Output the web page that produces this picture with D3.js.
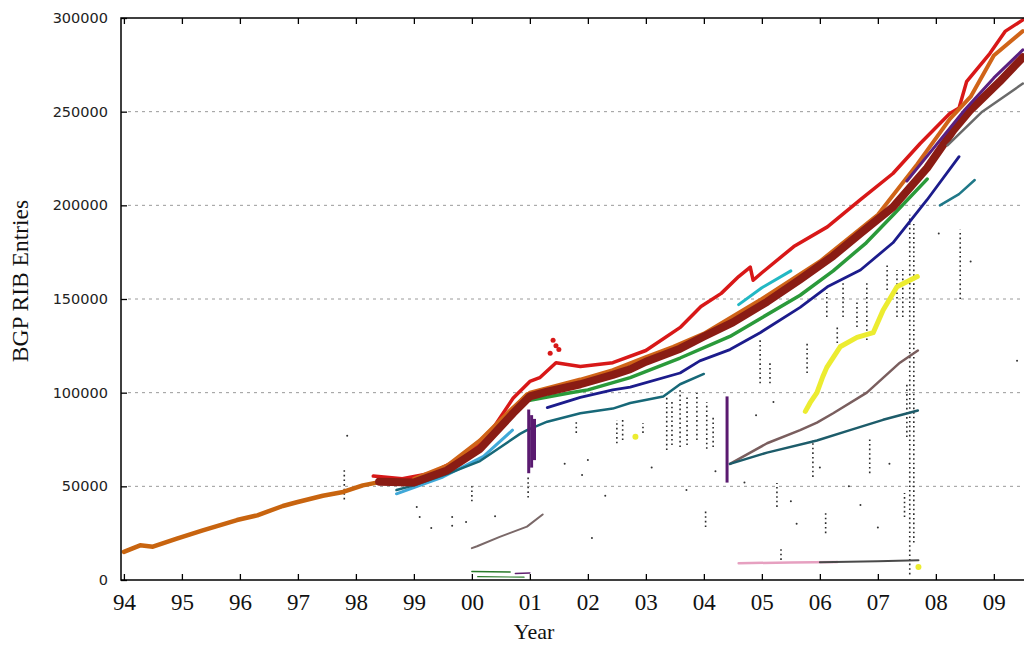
<!DOCTYPE html>
<html>
<head>
<meta charset="utf-8">
<script src="https://cdn.jsdelivr.net/npm/d3@7"></script>
<style>
  body { margin: 0; background: #fff; }
  svg { display: block; }
</style>
</head>
<body>
<div id="chart"></div>
<script>
// ticks
const yearTicks = [1994, 1995, 1996, 1997, 1998, 1999, 2000, 2001, 2002, 2003, 2004, 2005, 2006, 2007, 2008, 2009];
const valueTicks = [0, 50000, 100000, 150000, 200000, 250000, 300000];

// series, [year, RIB entries]
const orangeEarly = [[1994.0,15000],[1994.28,18500],[1994.5,17800],[1994.9,22000],[1995.36,26500],[1995.95,32000],[1996.3,34500],[1996.74,39500],[1996.98,41500],[1997.43,45000],[1997.78,47000],[1998.12,50500],[1998.36,52000],[1998.8,52500],[1999.0,53500],[1999.57,60000],[2000.14,74000],[2000.71,91500],[2000.95,99000],[2001.3,101000]];
const orangeBand = [[1999.0,54000],[1999.57,61000],[2000.14,74500],[2000.71,92000],[2001.0,100000],[2001.87,107000],[2002.43,112000],[2003.0,119000],[2003.47,124500],[2004.0,131500],[2005.0,150000],[2006.0,170000],[2007.0,195000],[2007.68,222000],[2008.24,246000],[2008.6,258000],[2009.0,280000],[2009.5,293000]];
const redTop = [[1998.3,55500],[1998.8,54000],[1999.3,57000],[1999.8,65000],[2000.3,78000],[2000.71,97000],[2001.0,106000],[2001.17,108000],[2001.45,116000],[2001.87,114000],[2002.43,116000],[2003.0,122500],[2003.6,135000],[2003.95,146000],[2004.3,153000],[2004.6,162000],[2004.8,167000],[2004.85,160000],[2005.0,164000],[2005.55,178000],[2006.13,188500],[2006.7,203000],[2007.26,217000],[2007.73,233000],[2008.24,249000],[2008.4,252000],[2008.53,266000],[2008.93,281000],[2009.2,293000],[2009.5,299000]];
const redSpike = [[2001.4,128000],[2001.45,125000],[2001.5,123000],[2001.35,121000]];
const mainBand = [[1998.4,52500],[1999.0,52000],[1999.57,58500],[2000.14,70000],[2000.71,89000],[2001.0,98000],[2001.3,100500],[2001.87,104500],[2002.43,109500],[2002.73,112500],[2003.0,116500],[2003.59,123500],[2004.0,130000],[2004.5,137500],[2005.09,148500],[2005.66,160500],[2006.23,173000],[2006.7,185000],[2007.26,199000],[2007.85,220000],[2008.3,240000],[2008.6,251000],[2009.1,266000],[2009.5,279000]];
const greenBand = [[2001.0,96000],[2001.7,100000],[2002.0,101500],[2002.73,108000],[2003.59,118500],[2004.45,130000],[2005.0,140000],[2005.66,152000],[2006.23,165000],[2006.8,180000],[2007.3,196000],[2007.85,214000]];
const purpleTop = [[2007.5,213000],[2008.0,232000],[2008.5,251000],[2009.0,268000],[2009.5,283000]];
const grayLate = [[2008.2,232000],[2008.8,250000],[2009.5,265000]];
const navy = [[2001.3,92000],[2001.87,97500],[2002.43,101500],[2002.73,103000],[2003.59,110500],[2003.93,117000],[2004.45,123000],[2004.97,132000],[2005.66,145500],[2006.13,156500],[2006.7,165500],[2007.26,180000],[2007.85,203000],[2008.4,226000]];
const skyBlue = [[1998.7,46000],[1999.5,55000],[2000.2,66000],[2000.7,80000]];
const tealLow = [[1998.7,48000],[1999.0,50500],[1999.57,56500],[2000.14,63500],[2000.83,78000],[2000.95,80000],[2001.3,84500],[2001.87,89000],[2002.43,91500],[2002.73,94500],[2003.3,98000],[2003.59,104500],[2004.0,110000]];
const cyan = [[2004.6,147000],[2005.0,156000],[2005.5,165000]];
const taupe = [[2004.45,62000],[2005.09,73000],[2005.66,80000],[2005.95,84000],[2006.23,89000],[2006.81,100000],[2007.38,116000],[2007.69,122500]];
const tealLow2 = [[2004.45,62000],[2005.09,68000],[2005.95,74500],[2006.52,80000],[2007.09,85500],[2007.69,90500]];
const yellow = [[2005.75,90000],[2005.83,94500],[2005.95,100000],[2006.05,108500],[2006.12,113500],[2006.35,124500],[2006.64,129500],[2006.92,132000],[2007.09,144000],[2007.33,156500],[2007.68,162000]];
const pinkBottom = [[2004.6,9000],[2005.5,9300],[2006.3,9600]];
const darkBottom = [[2006.0,9500],[2007.0,10000],[2007.7,10500]];
const grayBrown = [[2000.0,17000],[2000.09,18000],[2000.48,23000],[2000.95,28500],[2001.22,35000]];
const greenBottom = [[2000.0,4500],[2000.66,4300]];
const greenBottom2 = [[2000.1,1800],[2000.9,1500]];
const purpleBottom = [[2000.75,3500],[2001.0,3800]];
const tealLate = [[2008.07,200000],[2008.4,206000],[2008.67,213500]];

// vertical spikes, [year, low, high]
const purpleSpikes = [[2000.98,57000,91000],[2001.03,60000,88000],[2001.08,64000,86000],[2004.4,52000,98000]];
const spikes = [[1997.8,43000,60000],[2000.0,42000,50000],[2000.97,44000,55000],[2001.8,78500,85400],[2002.5,73000,85400],[2002.6,74700,87000],[2002.95,78500,83800],[2003.36,69400,99800],[2003.45,72000,96000],[2003.59,71000,101400],[2003.71,72000,98000],[2003.88,74700,99800],[2004.05,70000,95000],[2004.16,71000,87000],[2004.03,28300,37400],[2004.97,105000,128000],[2005.14,105000,117000],[2005.26,39000,51800],[2005.33,10700,17600],[2005.78,110500,126500],[2005.88,55000,74700],[2006.1,25000,35800],[2006.12,140400,153200],[2006.3,126500,135000],[2006.4,140400,158500],[2006.64,135000,149500],[2006.81,128100,158500],[2006.86,57000,76300],[2007.16,154800,169200],[2007.33,140400,165500],[2007.43,140400,165500],[2007.5,76300,105200],[2007.46,33600,46400],[2007.55,3000,195000],[2007.62,20000,190000],[2008.42,150000,187000]];
const strayDots = [[1997.85,77000],[1999.05,39000],[1999.1,33600],[1999.66,33600],[1999.66,29000],[1999.9,31000],[1999.3,27700],[2002.07,22400],[2001.6,62000],[2001.9,56000],[2002.3,45000],[2002.8,76000],[2003.1,60000],[2004.2,58000],[2004.7,52000],[2004.9,88000],[2005.2,95000],[2005.5,42000],[2005.6,30000],[2006.0,60000],[2006.5,50000],[2006.7,40000],[2007.0,28000],[2007.2,62000],[2008.05,185000],[2008.6,170000],[2009.4,117000],[2003.7,48000],[2002.0,64000],[2000.4,34000]];
const strayYellow = [[2002.82,76500],[2007.7,7000]];

const width = 1024, height = 646;
const margin = {top: 18, right: 0, bottom: 66, left: 121};

const x = d3.scaleLinear().domain([1993.95, 2009.52]).range([margin.left, width - margin.right]);
const y = d3.scaleLinear().domain([0, 300000]).range([height - margin.bottom, margin.top]);

const svg = d3.select("#chart").append("svg")
  .attr("width", width)
  .attr("height", height);

svg.append("defs").append("clipPath").attr("id", "plot")
  .append("rect")
  .attr("x", margin.left).attr("y", margin.top)
  .attr("width", width - margin.left - margin.right)
  .attr("height", height - margin.top - margin.bottom);

// grid
svg.append("g")
  .selectAll("line")
  .data(valueTicks.filter(d => d > 0 && d < 300000))
  .join("line")
  .attr("x1", margin.left + 7).attr("x2", width)
  .attr("y1", d => y(d)).attr("y2", d => y(d))
  .attr("stroke", "#9a9a9a")
  .attr("stroke-dasharray", "3,4");

const plot = svg.append("g").attr("clip-path", "url(#plot)");
const line = d3.line().x(d => x(d[0])).y(d => y(d[1]));

// spikes first, series over them
plot.append("g")
  .selectAll("line")
  .data(spikes)
  .join("line")
  .attr("x1", d => x(d[0])).attr("x2", d => x(d[0]))
  .attr("y1", d => y(d[1])).attr("y2", d => y(d[2]))
  .attr("stroke", "#2a2a2a")
  .attr("stroke-width", 1.6)
  .attr("stroke-dasharray", "1.6,3");

plot.append("g")
  .selectAll("circle")
  .data(strayDots)
  .join("circle")
  .attr("cx", d => x(d[0])).attr("cy", d => y(d[1]))
  .attr("r", 1)
  .attr("fill", "#333");

const series = [
  {data: orangeEarly, color: "#c8640f", w: 4.5},
  {data: skyBlue, color: "#40a8d8", w: 3},
  {data: tealLow, color: "#176878", w: 2.5},
  {data: grayBrown, color: "#7a6868", w: 2},
  {data: greenBottom, color: "#2a7a2a", w: 1.5},
  {data: greenBottom2, color: "#2a7a2a", w: 1.2},
  {data: purpleBottom, color: "#602070", w: 1.5},
  {data: redTop, color: "#d81818", w: 3.5},
  {data: orangeBand, color: "#d06418", w: 4},
  {data: navy, color: "#1c1c8c", w: 2.8},
  {data: greenBand, color: "#2a9a3a", w: 3.5},
  {data: mainBand, color: "#8a1c14", w: 8},
  {data: purpleTop, color: "#5a2080", w: 3},
  {data: grayLate, color: "#6a6a6a", w: 2.5},
  {data: cyan, color: "#22b8c4", w: 3},
  {data: taupe, color: "#7a5e5e", w: 2.5},
  {data: tealLow2, color: "#1d5c6a", w: 2.5},
  {data: yellow, color: "#ecec30", w: 5},
  {data: pinkBottom, color: "#e6a0c0", w: 2.5},
  {data: darkBottom, color: "#4a4a4a", w: 2},
  {data: tealLate, color: "#1f7888", w: 2.5}
];

plot.append("g")
  .selectAll("path")
  .data(series)
  .join("path")
  .attr("d", d => line(d.data))
  .attr("fill", "none")
  .attr("stroke", d => d.color)
  .attr("stroke-width", d => d.w)
  .attr("stroke-linejoin", "round")
  .attr("stroke-linecap", "round");

plot.append("g")
  .selectAll("line")
  .data(purpleSpikes)
  .join("line")
  .attr("x1", d => x(d[0])).attr("x2", d => x(d[0]))
  .attr("y1", d => y(d[1])).attr("y2", d => y(d[2]))
  .attr("stroke", "#5a1a70")
  .attr("stroke-width", 3);

plot.append("g")
  .selectAll("circle")
  .data(redSpike)
  .join("circle")
  .attr("cx", d => x(d[0])).attr("cy", d => y(d[1]))
  .attr("r", 2.5)
  .attr("fill", "#d81818");

plot.append("g")
  .selectAll("circle")
  .data(strayYellow)
  .join("circle")
  .attr("cx", d => x(d[0])).attr("cy", d => y(d[1]))
  .attr("r", 3)
  .attr("fill", "#ecec30");

// frame
const bottom = height - margin.bottom;
svg.append("path")
  .attr("d", `M${width},${margin.top}H${margin.left}V${bottom}H${width}`)
  .attr("fill", "none")
  .attr("stroke", "#000")
  .attr("stroke-width", 1.5);

const axisBottom = d3.axisBottom(x)
  .tickValues(yearTicks)
  .tickSize(-6)
  .tickPadding(14)
  .tickFormat(d => String(d % 100).padStart(2, "0"));

svg.append("g")
  .attr("transform", `translate(0,${bottom})`)
  .call(axisBottom)
  .call(g => g.select(".domain").remove())
  .call(g => g.selectAll("line").attr("stroke-width", 1.3))
  .call(g => g.selectAll("text")
    .attr("font-family", "'Liberation Serif', serif")
    .attr("font-size", 23)
    .attr("fill", "#111"));

svg.append("g")
  .attr("transform", `translate(0,${margin.top})`)
  .call(d3.axisTop(x).tickValues(yearTicks).tickSize(-6).tickFormat(""))
  .call(g => g.select(".domain").remove())
  .call(g => g.selectAll("line").attr("stroke-width", 1.3));

svg.append("g")
  .attr("transform", `translate(${margin.left},0)`)
  .call(d3.axisLeft(y).tickValues(valueTicks).tickSize(-6).tickPadding(13).tickFormat(d3.format("d")))
  .call(g => g.select(".domain").remove())
  .call(g => g.selectAll("line").attr("stroke-width", 1.3))
  .call(g => g.selectAll("text")
    .attr("font-family", "'DejaVu Sans', sans-serif")
    .attr("font-size", 14.5)
    .attr("fill", "#222"));

svg.append("text")
  .attr("x", 534)
  .attr("y", 639)
  .attr("text-anchor", "middle")
  .attr("font-family", "'Liberation Serif', serif")
  .attr("font-size", 22)
  .attr("fill", "#111")
  .text("Year");

svg.append("text")
  .attr("transform", "translate(28,281) rotate(-90)")
  .attr("text-anchor", "middle")
  .attr("font-family", "'Liberation Serif', serif")
  .attr("font-size", 23.5)
  .attr("fill", "#111")
  .text("BGP RIB Entries");
</script>
</body>
</html>
